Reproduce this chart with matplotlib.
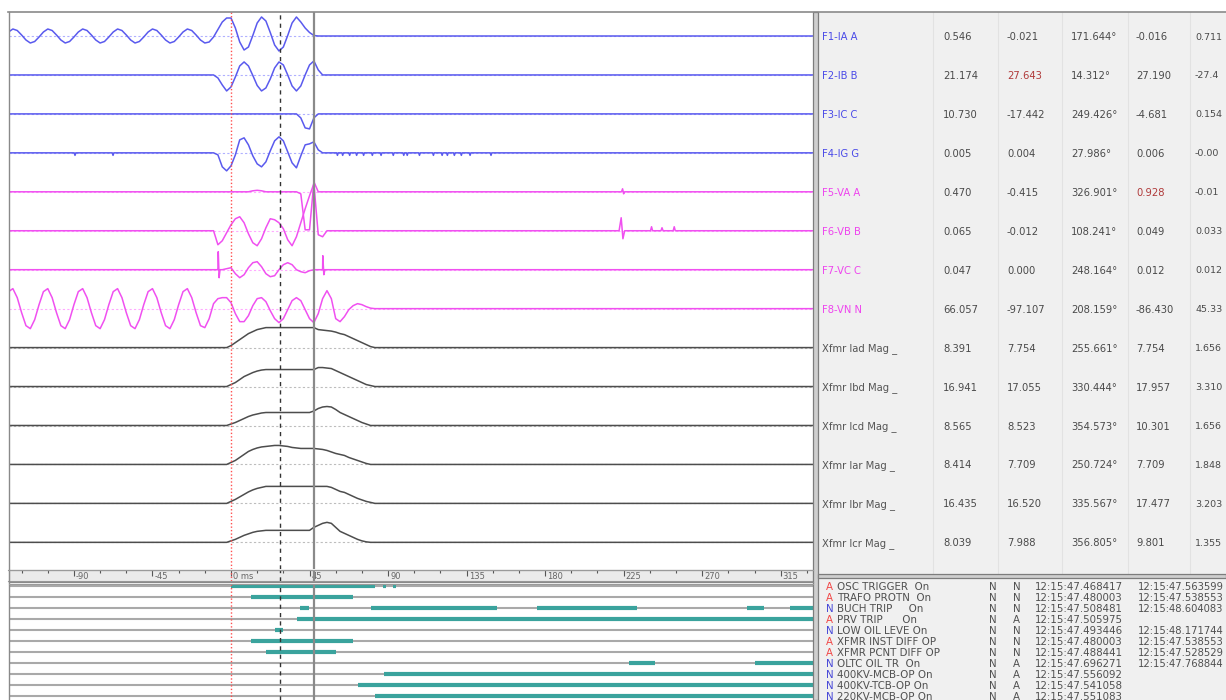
import matplotlib
matplotlib.use("Agg")
import matplotlib.pyplot as plt
import numpy as np
from matplotlib.patches import Rectangle

W, H, DPI = 1226, 700, 100

# screen layout of the record window
X_ZERO = 231.0          # pixel column of the trigger instant
PX_PER_MS = 1.745
LEFT_X0, LEFT_X1 = 8.5, 812.5
ROW0_Y, ROW_PITCH = 36.0, 38.95
DIG_ROW0_Y, DIG_PITCH = 586.0, 11.0

# sample clocks, ms relative to trigger
PRE_T = np.arange(-127.5, -16, 2.5)
FAULT_T = np.arange(-15, 86, 2.5)

CURSOR_TRIG = 0.0
CURSOR_A = 28.0
CURSOR_B = 47.8

CH_NAMES = ["F1-IA A", "F2-IB B", "F3-IC C", "F4-IG G",
            "F5-VA A", "F6-VB B", "F7-VC C", "F8-VN N",
            "Xfmr Iad Mag _", "Xfmr Ibd Mag _", "Xfmr Icd Mag _",
            "Xfmr Iar Mag _", "Xfmr Ibr Mag _", "Xfmr Icr Mag _"]
CH_GROUP = ["I", "I", "I", "I", "V", "V", "V", "V",
            "D", "D", "D", "D", "D", "D"]

# readout columns at the cursor
CH_READOUT = [
    ["0.546", "-0.021", "171.644°", "-0.016", "0.711"],
    ["21.174", "27.643", "14.312°", "27.190", "-27.4"],
    ["10.730", "-17.442", "249.426°", "-4.681", "0.154"],
    ["0.005", "0.004", "27.986°", "0.006", "-0.00"],
    ["0.470", "-0.415", "326.901°", "0.928", "-0.01"],
    ["0.065", "-0.012", "108.241°", "0.049", "0.033"],
    ["0.047", "0.000", "248.164°", "0.012", "0.012"],
    ["66.057", "-97.107", "208.159°", "-86.430", "45.33"],
    ["8.391", "7.754", "255.661°", "7.754", "1.656"],
    ["16.941", "17.055", "330.444°", "17.957", "3.310"],
    ["8.565", "8.523", "354.573°", "10.301", "1.656"],
    ["8.414", "7.709", "250.724°", "7.709", "1.848"],
    ["16.435", "16.520", "335.567°", "17.477", "3.203"],
    ["8.039", "7.988", "356.805°", "9.801", "1.355"],
]
FLAGGED_CELLS = [(1, 1), (4, 3)]

# pre-fault load waveforms (display units)
F1_PRE = [4, 7, 5.5, 1, -4, -7, -5.5, -1,
          4, 7, 5.5, 1, -4, -7, -5.5, -1,
          4, 7, 5.5, 1, -4, -7, -5.5, -1,
          4, 7, 5.5, 1, -4, -7, -5.5, -1,
          4, 7, 5.5, 1, -4, -7, -5.5, -1,
          4, 7, 5.5, 1, -4]
F8_PRE = [17, 20, 11, -4, -17, -20, -11, 4,
          17, 20, 11, -4, -17, -20, -11, 4,
          17, 20, 11, -4, -17, -20, -11, 4,
          17, 20, 11, -4, -17, -20, -11, 4,
          17, 20, 11, -4, -17, -20, -11, 4,
          17, 20, 11, -4, -17]

# fault window, one value per FAULT_T sample (-15 .. 85 ms)
F1_FAULT = [-7, -6, -1, 6.5, 14, 18, 18, 8, -6, -14, -11, 0.5, 13, 19, 15, 3.5,
            -9, -15, -11, 0.5, 13, 19, 14, 8, 3.5, 0.5,
            0, 0, 0, 0, 0, 0, 0, 0, 0, 0, 0, 0, 0, 0, 0]
F2_FAULT = [0, 0, 0, -3, -10, -16, -12, -2, 9, 13, 9, -0.5, -10.5, -16, -13, -4,
            7, 13, 10, 0, -11, -16, -11, 0, 10, 14, 5, 0,
            0, 0, 0, 0, 0, 0, 0, 0, 0, 0, 0, 0, 0]
F3_FAULT = [0, 0, 0, 0, 0, 0, 0, 0, 0, 0, 0, 0, 0, 0, 0, 0, 0, 0, 0, 0, 0, 0,
            -4, -14, -15, -4, 0,
            0, 0, 0, 0, 0, 0, 0, 0, 0, 0, 0, 0, 0, 0]
F4_FAULT = [0, 0, 0, -2, -14, -18, -13, -2, 13, 15, 8, -3, -11, -14, -9, 2,
            12, 16, 12, 1, -10, -15, -3, 8, 9, 11, 3, 0,
            0, 0, 0, 0, 0, 0, 0, 0, 0, 0, 0, 0, 0]
F5_FAULT = [0, 0, 0, 0, 0, 0, 0, 0, 0, 0, 0, 1, 1.5, 1,
            0, 0, 0, 0, 0, 0, 0, 0,
            -2, -38, -38, 10, 0,
            0, 0, 0, 0, 0, 0, 0, 0, 0, 0, 0, 0, 0, 0]
F6_FAULT = [0, 0, 0, -14, -10, -2, 6, 12, 14, 8, -3, -12, -15, -8, 3, 12,
            11, 8, 2, -9, -15, -6, 8, 22, 35, 47, -4, -6, 0,
            0, 0, 0, 0, 0, 0, 0, 0, 0, 0, 0, 0]
F7_FAULT = [0, 0, 0, 0, 0, 1, 2, -4, -8, -5, 2, 7, 8, 3, -4, -7,
            -6, 0, 5, 7, 5, 0, -2, -3, -1, 0,
            0, 0, 0, 0, 0, 0, 0, 0, 0, 0, 0, 0, 0, 0, 0]
F8_FAULT = [-19, -10, 5, 10, 11, 11, 6, -5, -13, -13, -7, 3, 10, 11, 7, -2,
            -10, -14, -10, -1, 8, 11, 8, -1, -10, -14, -5, 10, 18, 10, -10, -13,
            -8, -1, 3, 5, 4, 2, 0.5, 0, 0]
IAD_FAULT = [0, 0, 0, 0, 0, 0, 2, 5, 8, 11, 14, 16, 18, 19,
             20, 20, 20, 20, 20, 20, 20, 20, 20, 20, 20, 20,
             18, 17.5, 17, 16.5, 15.5, 14, 13, 11, 9, 7, 5, 3, 1, 0, 0]
IBD_FAULT = [0, 0, 0, 0, 0, 0, 2, 4, 7, 10, 12, 14, 15.5, 16.5,
             17, 17, 17, 17, 17, 17, 17, 17, 17, 17, 17, 17,
             19, 19, 18.5, 18, 16, 14, 12, 10, 8, 6, 4, 2, 1, 0, 0]
ICD_FAULT = [0, 0, 0, 0, 0, 0, 1.5, 3, 5, 7, 9, 10.5, 11.5, 12.5,
             13, 13, 13, 13, 13, 13, 13, 13, 13, 13, 13, 14.5,
             17, 18.5, 19, 18.5, 16, 13, 11, 9, 7, 5, 3, 1.5, 0, 0, 0]
IAR_FAULT = [0, 0, 0, 0, 0, 0, 2, 4, 7, 10, 13, 15, 16.5, 17.5,
             18, 18.5, 19, 19, 18.5, 18, 17, 16.5, 16, 16, 16, 16,
             15.5, 15, 14, 12.5, 11, 10, 9, 7, 5.5, 4, 2.5, 1, 0, 0, 0]
IBR_FAULT = [0, 0, 0, 0, 0, 0, 2, 4, 6.5, 9, 11.5, 13.5, 15, 16,
             17, 17, 17, 17, 17, 17, 17, 17, 17, 17, 17, 17,
             17, 17, 17, 16, 14, 12, 11, 9, 7, 5, 3.5, 2, 1, 0, 0]
ICR_FAULT = [0, 0, 0, 0, 0, 0, 1.5, 3, 5, 7, 8.5, 10, 11, 11.5,
             12, 12, 12, 12, 12, 12, 12, 12, 12, 12, 12, 15,
             17, 19, 20, 19, 15, 11, 9, 7, 5, 3, 1.5, 0.5, 0, 0, 0]

# isolated glitches outside the sampled window
F4_DIP_T = [-89.4, -67.6, 61, 64, 68, 72, 76, 81, 86, 93, 99, 101, 108,
            116, 121, 124, 128, 132, 137, 149]
F5_SPIKE_T = [223.8, 224.4, 225.0, 225.6]
F5_SPIKE_V = [0, 3, -2, 0]
F6_SPIKE_T = [222.4, 223.6, 224.6, 225.6, 240.4, 241.0, 241.6,
              246.4, 247.0, 247.6, 253.4, 254.0, 254.6]
F6_SPIKE_V = [0, 13, -8, 0, 0, 4, 0, 0, 3, 0, 0, 4, 0]
F7_SPIKE_T = [-7.8, -7.3, -6.8, -6.3, 52.0, 52.6, 53.2, 53.8]
F7_SPIKE_V = [0, 18, -8, 0, 0, 14, -5, 0]

# digital channels
DIG_FLAG = ["A", "A", "N", "A", "N", "A", "A", "N", "N", "N", "N"]
DIG_NAMES = ["OSC TRIGGER  On", "TRAFO PROTN  On", "BUCH TRIP     On",
             "PRV TRIP      On", "LOW OIL LEVE On", "XFMR INST DIFF OP",
             "XFMR PCNT DIFF OP", "OLTC OIL TR  On", "400KV-MCB-OP On",
             "400KV-TCB-OP On", "220KV-MCB-OP On"]
DIG_NORMAL = ["N"] * 11
DIG_STATE = ["N", "N", "N", "A", "N", "N", "N", "A", "A", "A", "A"]
DIG_T_ON = ["12:15:47.468417", "12:15:47.480003", "12:15:47.508481",
            "12:15:47.505975", "12:15:47.493446", "12:15:47.480003",
            "12:15:47.488441", "12:15:47.696271", "12:15:47.556092",
            "12:15:47.541058", "12:15:47.551083"]
DIG_T_OFF = ["12:15:47.563599", "12:15:47.538553", "12:15:48.604083", "",
             "12:15:48.171744", "12:15:47.538553", "12:15:47.528529",
             "12:15:47.768844", "", "", ""]
DIG_SPANS = [
    [(0, 82.5), (87.2, 88.8), (93.0, 94.6)],
    [(11.6, 70.1)],
    [(39.5, 44.7), (80.0, 152.3), (175.3, 232.6), (295.6, 305.6), (320.5, 340)],
    [(37.6, 340)],
    [(25.0, 29.6)],
    [(11.6, 70.1)],
    [(20.0, 60.1)],
    [(227.9, 243.0), (300.4, 340)],
    [(87.7, 340)],
    [(72.6, 340)],
    [(82.5, 340)],
]

TICK_LABELS = ["-90", "-45", "0 ms", "45", "90", "135", "180", "225", "270", "315"]

STYLE = {
    "I": ("#5a5aee", "#b0b0ff"),
    "V": ("#f050f0", "#ffaaff"),
    "D": ("#4d4d4d", "#bdbdbd"),
}
TEAL = "#3aa39d"
GRID_GRAY = "#a9a9a9"
TXT = "#505050"


def blips(times, depth, half=0.45):
    t, v = [], []
    for c in times:
        t += [c - half, c, c + half]
        v += [0.0, depth, 0.0]
    return t, v


def build_trace(fault, pre=None, extra=None, t_end=400.0):
    if pre is None:
        t, v = [-200.0], [0.0]
    else:
        t, v = list(PRE_T), list(pre)
    t += list(FAULT_T)
    v += list(fault)
    t.append(t_end)
    v.append(0.0)
    if extra is not None:
        t += list(extra[0])
        v += list(extra[1])
    t = np.asarray(t, float)
    v = np.asarray(v, float)
    order = np.argsort(t, kind="stable")
    return t[order], v[order]


TRACES = [
    build_trace(F1_FAULT, F1_PRE),
    build_trace(F2_FAULT),
    build_trace(F3_FAULT),
    build_trace(F4_FAULT, extra=blips(F4_DIP_T, -2.5)),
    build_trace(F5_FAULT, extra=(F5_SPIKE_T, F5_SPIKE_V)),
    build_trace(F6_FAULT, extra=(F6_SPIKE_T, F6_SPIKE_V)),
    build_trace(F7_FAULT, extra=(F7_SPIKE_T, F7_SPIKE_V)),
    build_trace(F8_FAULT, F8_PRE),
    build_trace(IAD_FAULT),
    build_trace(IBD_FAULT),
    build_trace(ICD_FAULT),
    build_trace(IAR_FAULT),
    build_trace(IBR_FAULT),
    build_trace(ICR_FAULT),
]

fig = plt.figure(figsize=(W / DPI, H / DPI), dpi=DPI)
fig.patch.set_facecolor("white")


def px_axes(x0, y0, x1, y1, **kw):
    return fig.add_axes([x0 / W, 1 - y1 / H, (x1 - x0) / W, (y1 - y0) / H], **kw)


t_view = ((LEFT_X0 - X_ZERO) / PX_PER_MS, (LEFT_X1 - X_ZERO) / PX_PER_MS)

# background fills for the readout panes
bg = px_axes(0, 0, W, H)
bg.set_xlim(0, W)
bg.set_ylim(H, 0)
bg.axis("off")
bg.add_patch(Rectangle((817, 12), W - 817, 562, color="#f0f0f0", lw=0))
bg.add_patch(Rectangle((817, 578), W - 817, H - 578, color="#f0f0f0", lw=0))
for xs in [933, 998, 1062, 1128, 1190]:
    bg.plot([xs, xs], [12, 573], color="#e2e2e2", lw=0.8)

# analog traces
ax_w = px_axes(LEFT_X0, 12, LEFT_X1, 569)
ax_w.set_xlim(t_view)
ax_w.set_ylim(569, 12)
ax_w.axis("off")
for i, (t, v) in enumerate(TRACES):
    base = ROW0_Y + ROW_PITCH * i
    line_c, base_c = STYLE[CH_GROUP[i]]
    ax_w.axhline(base, color=base_c, lw=0.8, ls=(0, (2, 2)), zorder=1)
    ax_w.plot(t, base - v, color=line_c, lw=1.1, zorder=2)

# time strip
ax_t = px_axes(LEFT_X0, 570, LEFT_X1, 581)
ax_t.set_xlim(t_view)
ax_t.set_ylim(0, 1)
ax_t.set_facecolor("#ebebeb")
major = np.arange(-90, 316, 45)
ax_t.set_xticks(major)
ax_t.set_xticks(np.arange(-120, 334, 15), minor=True)
ax_t.set_yticks([])
ax_t.tick_params(axis="x", which="both", top=True, bottom=False,
                 labelbottom=False, direction="in", color="#555555")
ax_t.tick_params(axis="x", which="major", length=4, width=0.8)
ax_t.tick_params(axis="x", which="minor", length=2, width=0.8)
for s in ax_t.spines.values():
    s.set_color("#9a9a9a")
for tk, lab in zip(major, TICK_LABELS):
    ax_t.text(tk + 1.2, 0.38, lab, fontsize=6, color="#666666",
              ha="left", va="center")

# digital channels
ax_d = px_axes(LEFT_X0, 584, LEFT_X1, 700)
ax_d.set_xlim(t_view)
ax_d.set_ylim((700 - DIG_ROW0_Y) / DIG_PITCH, (584 - DIG_ROW0_Y) / DIG_PITCH)
ax_d.axis("off")
for i, spans in enumerate(DIG_SPANS):
    ax_d.hlines(i, -200, 400, color=GRID_GRAY, lw=1.5, zorder=1)
    for s, e in spans:
        ax_d.hlines(i, s, e, color=TEAL, lw=3.0, zorder=2, capstyle="butt")

# cursors run through all three left panes
for ax in (ax_w, ax_t, ax_d):
    ax.axvline(CURSOR_TRIG, color="#ff5050", lw=1.0, ls=(0, (1, 1.5)), zorder=3)
    ax.axvline(CURSOR_A, color="#333333", lw=1.0, ls=(0, (3, 3)), zorder=3)
    ax.axvline(CURSOR_B, color="#8a8a8a", lw=1.6, zorder=3)

# borders and readout text
top = px_axes(0, 0, W, H)
top.set_xlim(0, W)
top.set_ylim(H, 0)
top.axis("off")
top.patch.set_alpha(0)
top.plot([8, W], [11.5, 11.5], color="#8a8a8a", lw=1.2)
top.plot([8.5, 8.5], [11.5, H], color="#8a8a8a", lw=1.0)
top.plot([8.5, 812.5], [569.5, 569.5], color="#9a9a9a", lw=0.9)
top.plot([8.5, 812.5], [581.5, 581.5], color="#8a8a8a", lw=0.9)
top.plot([8.5, 812.5], [583.8, 583.8], color="#9a9a9a", lw=0.8)
top.add_patch(Rectangle((812.5, 11.5), 5, H - 11.5, facecolor="#cfcfcf",
                        edgecolor="#7d7d7d", lw=0.9))
top.add_patch(Rectangle((817.5, 573.5), W - 817.5, 4.5, facecolor="#cfcfcf",
                        edgecolor="#7d7d7d", lw=0.9))

COL_X = [943, 1007, 1071, 1136, 1195]
for i, name in enumerate(CH_NAMES):
    y = ROW0_Y + ROW_PITCH * i + 1
    label_c = {"I": "#4a4ae8", "V": "#ee44ee", "D": "#555555"}[CH_GROUP[i]]
    top.text(822, y, name, color=label_c, fontsize=7.2, ha="left", va="center")
    for j, val in enumerate(CH_READOUT[i]):
        c = "#b03a3a" if (i, j) in FLAGGED_CELLS else "#4a4a4a"
        fs = 6.8 if j == 4 else 7.2
        top.text(COL_X[j], y, val, color=c, fontsize=fs, ha="left", va="center")

for i, name in enumerate(DIG_NAMES):
    y = 587.5 + 10.95 * i
    flag_c = "#f04848" if DIG_FLAG[i] == "A" else "#4848d8"
    top.text(826, y, DIG_FLAG[i], color=flag_c, fontsize=7.4, ha="left", va="center")
    top.text(837, y, name, color=TXT, fontsize=7.4, ha="left", va="center")
    top.text(989, y, DIG_NORMAL[i], color=TXT, fontsize=7.4, ha="left", va="center")
    top.text(1013, y, DIG_STATE[i], color=TXT, fontsize=7.4, ha="left", va="center")
    top.text(1035, y, DIG_T_ON[i], color=TXT, fontsize=7.4, ha="left", va="center")
    top.text(1138, y, DIG_T_OFF[i], color=TXT, fontsize=7.2, ha="left", va="center")

fig.savefig("out.png", dpi=DPI)
